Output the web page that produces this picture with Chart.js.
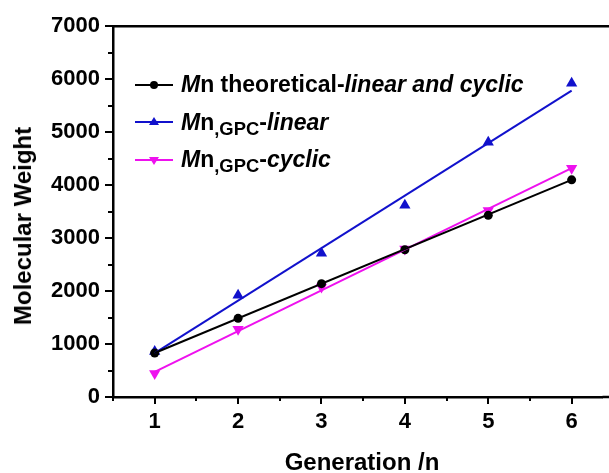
<!DOCTYPE html>
<html>
<head>
<meta charset="utf-8">
<script src="https://cdn.jsdelivr.net/npm/chart.js@4/dist/chart.umd.min.js"></script>
<style>
  html, body { margin: 0; padding: 0; background: #fff; }
  #wrap { position: relative; width: 609px; height: 473px; overflow: hidden; font-family: "Liberation Sans", Arial, sans-serif; }
  #c { position: absolute; left: 0; top: 0; }
  .ttl { position: absolute; font-weight: bold; font-size: 24px; color: #000; white-space: nowrap; }
  #xt { left: 362px; top: 462px; transform: translate(-50%, -50%); }
  #yt { left: 23px; top: 226px; transform: translate(-50%, -50%) rotate(-90deg); }
  #legend { position: absolute; left: 135px; top: 66px; font-weight: bold; font-size: 23px; color: #000; }
  .row { height: 37.5px; display: flex; align-items: center; white-space: nowrap; }
  .row svg { width: 38px; height: 20px; margin-right: 8px; flex: none; }
  .row sub { font-size: 0.8em; font-style: normal; vertical-align: -0.25em; line-height: 0; }
</style>
</head>
<body>
<div id="wrap">
  <canvas id="c" width="609" height="473"></canvas>
  <div id="legend"></div>
  <div class="ttl" id="xt">Generation /n</div>
  <div class="ttl" id="yt">Molecular Weight</div>
</div>
<script>
// ---- data ----
const generations = [1, 2, 3, 4, 5, 6];
const mnTheoretical = [830, 1485, 2140, 2780, 3430, 4100];
const mnGpcLinear   = [860, 1920, 2715, 3620, 4810, 5925];
const mnGpcCyclic   = [445, 1280, 2075, 2795, 3520, 4320];
// fitted straight lines: values at the first and last generation
const fitX = [1, 6];
const fitTheoretical = [830, 4100];
const fitGpcLinear   = [830, 5785];
const fitGpcCyclic   = [475, 4320];
const xTickLabels = [1, 2, 3, 4, 5, 6];
const yTickLabels = [0, 1000, 2000, 3000, 4000, 5000, 6000, 7000];

const seriesNames = [
  '<i>M</i>n theoretical-<i>linear and cyclic</i>',
  '<i>M</i>n<sub>,GPC</sub>-<i>linear</i>',
  '<i>M</i>n<sub>,GPC</sub>-<i>cyclic</i>'
];
const colors = ['#000000', '#1111cc', '#ee11ee'];

function pts(xs, ys) { return xs.map((x, i) => ({ x: x, y: ys[i] })); }

// legend (HTML)
const legendIcons = [
  '<circle cx="19" cy="10" r="4" fill="#000"/>',
  '<polygon points="19,5 24,13 14,13" fill="#1111cc"/>',
  '<polygon points="19,15 24,7 14,7" fill="#ee11ee"/>'
];
document.getElementById('legend').innerHTML = seriesNames.map((n, i) =>
  '<div class="row"><svg viewBox="0 0 38 20"><line x1="0" y1="10" x2="38" y2="10" stroke="' + colors[i] +
  '" stroke-width="2"/>' + legendIcons[i] + '</svg><span>' + n + '</span></div>').join('');

const font = { family: '"Liberation Sans", Arial, sans-serif', size: 22, weight: 'bold' };

const tickPlugin = {
  id: 'tickPlugin',
  afterDraw(chart) {
    const ctx = chart.ctx, a = chart.chartArea;
    const xs = chart.scales.x, ys = chart.scales.y;
    ctx.save();
    ctx.strokeStyle = '#000';
    ctx.lineWidth = 2;
    for (let v = 0.5; v <= xs.max + 1e-9; v += 0.5) {
      const px = Math.round(xs.getPixelForValue(v));
      const len = xTickLabels.includes(v) ? 7 : 4;
      ctx.beginPath(); ctx.moveTo(px, a.bottom); ctx.lineTo(px, a.bottom + len); ctx.stroke();
    }
    for (let v = 0; v <= ys.max + 1e-9; v += 500) {
      const py = Math.round(ys.getPixelForValue(v));
      const len = yTickLabels.includes(v) ? 8 : 5;
      ctx.beginPath(); ctx.moveTo(a.left - len, py); ctx.lineTo(a.left, py); ctx.stroke();
    }
    ctx.lineWidth = 2.5;
    ctx.beginPath(); ctx.moveTo(a.left - 1, a.top); ctx.lineTo(chart.width, a.top); ctx.stroke();
    ctx.beginPath(); ctx.moveTo(a.right, a.bottom); ctx.lineTo(chart.width, a.bottom); ctx.stroke();
    ctx.restore();
  }
};

new Chart(document.getElementById('c'), {
  type: 'scatter',
  data: {
    datasets: [
      { data: pts(fitX, fitTheoretical), showLine: true, borderColor: colors[0], borderWidth: 2, pointRadius: 0 },
      { data: pts(fitX, fitGpcLinear), showLine: true, borderColor: colors[1], borderWidth: 2, pointRadius: 0 },
      { data: pts(fitX, fitGpcCyclic), showLine: true, borderColor: colors[2], borderWidth: 2, pointRadius: 0 },
      { data: pts(generations, mnTheoretical), showLine: false, pointStyle: 'circle', pointRadius: 4.5,
        backgroundColor: colors[0], borderColor: colors[0], borderWidth: 0 },
      { data: pts(generations, mnGpcLinear), showLine: false, pointStyle: 'triangle', pointRadius: 6.5,
        backgroundColor: colors[1], borderColor: colors[1], borderWidth: 0 },
      { data: pts(generations, mnGpcCyclic), showLine: false, pointStyle: 'triangle', rotation: 180, pointRadius: 6.5,
        backgroundColor: colors[2], borderColor: colors[2], borderWidth: 0 }
    ]
  },
  options: {
    responsive: false,
    animation: false,
    clip: false,
    layout: { padding: { top: 26, right: 0, left: 0, bottom: 0 } },
    plugins: { legend: { display: false }, tooltip: { enabled: false } },
    scales: {
      x: {
        type: 'linear', min: 0.5, max: 6.37,
        afterBuildTicks(s) { s.ticks = xTickLabels.map(v => ({ value: v })); },
        afterFit(s) { s.height = 76; s.paddingRight = 0; s.paddingLeft = 0; },
        border: { display: true, color: '#000', width: 2.5 },
        grid: { display: false, drawTicks: false },
        ticks: { padding: 12, color: '#000', font: font, maxRotation: 0, autoSkip: false,
          callback: v => String(v) }
      },
      y: {
        type: 'linear', min: 0, max: 7000,
        afterBuildTicks(s) { s.ticks = yTickLabels.map(v => ({ value: v })); },
        afterFit(s) { s.width = 113; },
        border: { display: true, color: '#000', width: 2.5 },
        grid: { display: false, drawTicks: false },
        ticks: { padding: 13, color: '#000', font: font, autoSkip: false,
          callback: v => String(v) }
      }
    }
  },
  plugins: [tickPlugin]
});
</script>
</body>
</html>
